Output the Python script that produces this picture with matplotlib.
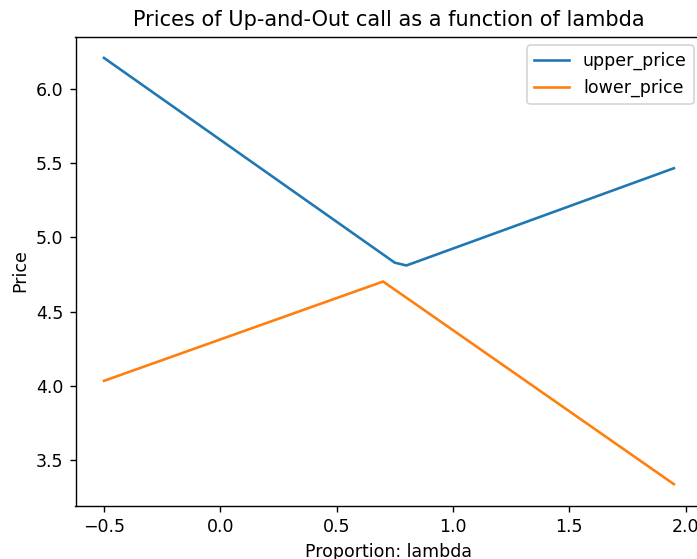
import matplotlib
matplotlib.use("Agg")
import matplotlib.pyplot as plt
import pandas as pd

# proportion lambda and the two price bounds at the break points of each curve
lam = [-0.5, 0.7, 0.75, 0.8, 1.95]
upper_price = [6.209, 4.885, 4.830, 4.811, 5.466]
lower_price = [4.034, 4.703, 4.648, 4.594, 3.338]

df = pd.DataFrame({"upper_price": upper_price, "lower_price": lower_price}, index=lam)

W, H = 697, 559
DPI = 125
fig = plt.figure(figsize=(W / DPI, H / DPI), dpi=DPI)
ax = fig.add_axes([75.5 / W, (H - 505.5) / H, (702.4 - 75.5) / W, (505.5 - 36.6) / H])

ax.plot(df.index, df["upper_price"], label="upper_price")
ax.plot(df.index, df["lower_price"], label="lower_price")

ax.set_title("Prices of Up-and-Out call as a function of lambda")
ax.set_xlabel("Proportion: lambda")
ax.set_ylabel("Price")
ax.legend(loc="upper right")

fig.savefig("out.png", dpi=DPI)
